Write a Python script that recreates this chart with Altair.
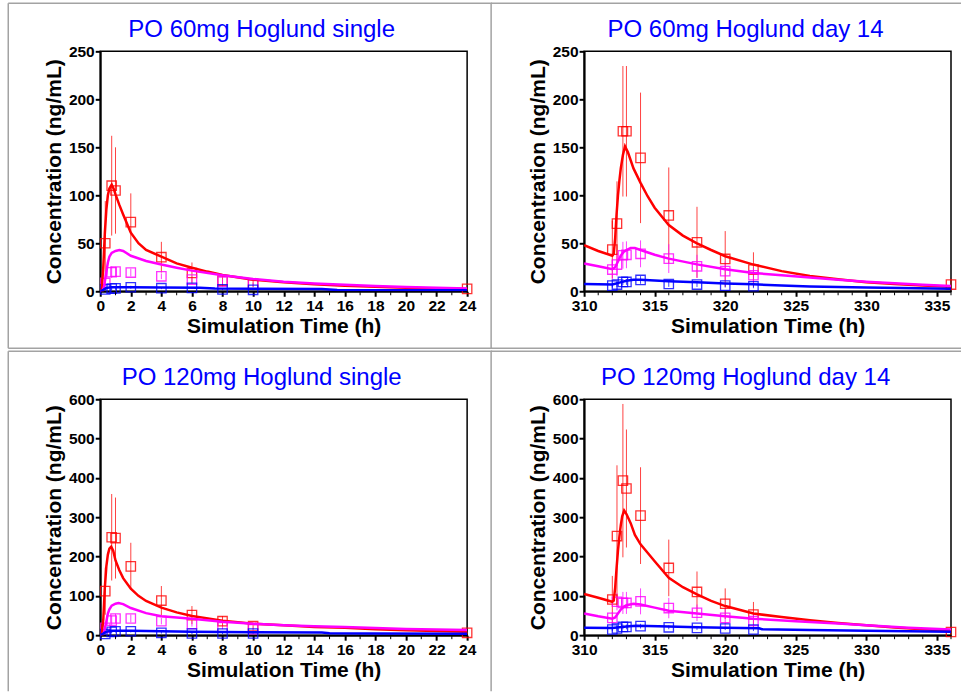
import altair as alt
import pandas as pd

# ---------------- observed sampling times ----------------
T_SINGLE = [0.33, 0.75, 1, 2, 4, 6, 8, 10]
T_D14 = [312, 312.33, 312.75, 313, 314, 316, 318, 320, 322]

# ---------------- Panel 1: PO 60mg single ----------------
p1_red_obs_t = [0.33, 0.75, 1, 2, 4, 6, 8, 10, 24]
p1_red_obs = [50, 110, 105, 72, 35.5, 19, 11, 7.6, 2.5]
p1_red_sd = [44, 52, 45, 30, 16, 11, 6, 3.5, 1.5]
p1_mag_obs = [8.7, 19.8, 20.5, 19.5, 15.6, 12.2, 10, 7]
p1_mag_sd = [4, 6, 5, 4, 3, 3, 2.5, 2]
p1_blue_obs = [2, 2.8, 3, 4.2, 3.2, 3.5, 2, 1.5]
p1_blue_sd = [1, 1.5, 1.5, 1.5, 1, 1, 1, 0.5]
p1_red_sim_t = [0, 0.1, 0.2, 0.3, 0.4, 0.5, 0.6, 0.75, 0.9, 1.0, 1.25, 1.5, 2, 2.5, 3, 4, 5, 6, 7, 8, 10, 12, 14, 16, 18, 20, 22, 24]
p1_red_sim = [0, 2, 25, 60, 85, 100, 107, 111, 106, 101, 90, 80, 61, 50, 43, 36, 29, 24.5, 20.5, 17, 12, 9.3, 7.3, 5.8, 4.6, 3.7, 2.9, 2.3]
p1_mag_sim_t = [0, 0.15, 0.25, 0.4, 0.5, 0.6, 0.75, 1, 1.25, 1.5, 2, 3, 4, 5, 6, 8, 10, 12, 14, 16, 18, 20, 22, 24]
p1_mag_sim = [0, 0, 5, 20, 30, 36, 40, 42, 43, 42, 37, 31.5, 27.8, 24.5, 21.5, 16.7, 12.8, 10, 8.2, 6.7, 5.5, 4.5, 3.7, 3]
p1_blue_sim_t = [0, 0.2, 0.4, 0.75, 2, 4, 6.5, 7.5, 14.5, 15.5, 24]
p1_blue_sim = [0, 1.5, 3.5, 4.3, 4.3, 4, 3.6, 2.8, 2.4, 1.4, 1.1]

# ---------------- Panel 2: PO 60mg day 14 ----------------
p2_red_obs_t = [312, 312.33, 312.75, 313, 314, 316, 318, 320, 322, 336]
p2_red_obs = [43.4, 70.5, 166.7, 166.7, 139, 79, 51, 33.7, 22.6, 7]
p2_red_sd = [30, 44, 68, 68, 68, 50, 37, 29, 18, 6]
p2_mag_obs = [22.6, 27.8, 37.5, 38, 39, 34, 26, 21, 16.7]
p2_mag_sd = [10, 12, 14, 14, 14, 15, 12, 10, 8]
p2_blue_obs = [5.9, 7, 9.7, 9.7, 11.8, 7.6, 7, 5.9, 5.2]
p2_blue_sd = [2, 2.5, 3, 3, 4, 3, 2.5, 2, 2]
p2_red_sim_t = [310, 311, 312, 312.1, 312.2, 312.3, 312.4, 312.5, 312.6, 312.75, 312.9, 313.1, 313.5, 314, 314.5, 315, 316, 317, 318, 319, 320, 322, 324, 326, 328, 330, 332, 334, 336]
p2_red_sim = [48, 42, 37, 39, 55, 80, 100, 115, 128, 142, 151, 145, 128, 113, 99, 87, 69, 58, 50, 43, 36.5, 27.8, 21, 16, 12.5, 9.5, 7.5, 6, 4.8]
p2_mag_sim_t = [310, 311, 312, 312.2, 312.4, 312.6, 312.8, 313, 313.3, 313.6, 314, 315, 316, 318, 320, 322, 324, 326, 328, 330, 332, 334, 336]
p2_mag_sim = [29, 26, 23, 25, 31, 37, 41, 43, 45, 45, 43, 38, 34, 28, 23, 19, 16.7, 14.3, 12, 10, 8.3, 6.8, 5.6]
p2_blue_sim_t = [310, 312, 312.5, 313, 313.5, 314, 316, 318, 320, 322, 324, 326, 330, 336]
p2_blue_sim = [7.5, 7, 9, 11, 12, 12, 10.5, 9.3, 8.2, 7.3, 6, 5, 3.8, 2.5]

# ---------------- Panel 3: PO 120mg single ----------------
p3_red_obs_t = [0.33, 0.75, 1, 2, 4, 6, 8, 10, 24]
p3_red_obs = [112, 249, 247, 175, 88, 51, 35.6, 23, 6]
p3_red_sd = [60, 110, 103, 60, 37, 23, 13, 8, 3]
p3_mag_obs = [18.6, 37, 42.4, 42.4, 35.6, 28.8, 20.3, 15]
p3_mag_sd = [8, 12, 12, 10, 8, 7, 5, 4]
p3_blue_obs = [3, 8.5, 10, 10, 6, 4.2, 4.2, 4.2]
p3_blue_sd = [2, 3, 3, 3, 2, 1.5, 1.5, 1.5]
p3_red_sim_t = [0, 0.1, 0.2, 0.3, 0.4, 0.5, 0.6, 0.72, 0.85, 1, 1.25, 1.5, 2, 2.5, 3, 4, 5, 6, 8, 10, 12, 14, 16, 18, 20, 22, 24]
p3_red_sim = [0, 2, 40, 120, 175, 205, 220, 225, 215, 190, 165, 145, 118, 100, 87, 70, 58, 49, 37, 29, 25, 21, 18.6, 15, 12.5, 10.5, 8.5]
p3_mag_sim_t = [0, 0.15, 0.25, 0.4, 0.5, 0.6, 0.75, 1, 1.2, 1.5, 2, 3, 4, 5, 6, 8, 10, 12, 14, 16, 18, 20, 22, 24]
p3_mag_sim = [0, 0, 8, 35, 55, 66, 75, 80, 82, 79, 69, 56, 48, 45, 42, 34, 29, 25.5, 23, 20.5, 18, 16, 14.5, 13]
p3_blue_sim_t = [0, 0.2, 0.4, 0.75, 1, 2, 4, 6, 8, 10, 14.5, 15, 18, 24]
p3_blue_sim = [0, 4, 9, 11, 11.5, 11, 10, 9, 8.3, 7.6, 6.5, 5, 4.5, 3.5]

# ---------------- Panel 4: PO 120mg day 14 ----------------
p4_red_obs_t = [312, 312.33, 312.75, 313, 314, 316, 318, 320, 322, 336]
p4_red_obs = [90.7, 252, 393, 373, 304, 171, 110, 80, 52.5, 8]
p4_red_sd = [60, 180, 195, 150, 123, 72, 52, 39, 32, 8]
p4_mag_obs = [44, 85, 82, 82, 86, 69, 57, 44, 36]
p4_mag_sd = [15, 22, 28, 28, 33, 26, 21, 25, 20]
p4_blue_obs = [14.4, 17, 21, 21, 23, 20, 18.6, 17, 14.4]
p4_blue_sd = [4, 5, 6, 6, 6, 5, 5, 4, 4]
p4_red_sim_t = [310, 311, 312, 312.1, 312.2, 312.3, 312.4, 312.5, 312.6, 312.7, 312.84, 313, 313.3, 313.6, 314, 315, 316, 317, 318, 319, 320, 322, 324, 326, 328, 330, 332, 334, 336]
p4_red_sim = [105, 95, 85, 88, 120, 170, 215, 250, 280, 302, 317, 308, 285, 255, 231, 188, 146, 122, 103.5, 87, 74, 55, 46, 38, 31, 25, 19.5, 15, 11]
p4_mag_sim_t = [310, 311, 312, 312.2, 312.4, 312.6, 312.8, 313, 313.5, 314, 315, 316, 318, 320, 322, 325, 328, 330, 333, 336]
p4_mag_sim = [55, 48, 42, 45, 55, 65, 72, 76, 80, 78, 70, 62, 55, 48, 42, 35.6, 30, 25, 19, 14.5]
p4_blue_sim_t = [310, 312, 312.5, 313, 313.7, 314.5, 316, 318, 320, 322.4, 322.6, 326, 330, 336]
p4_blue_sim = [18.6, 18, 20, 22, 24, 23.5, 22, 20, 19, 17.5, 15, 13, 11, 8.5]

# ---------------- axes ----------------
X_TICKS_SINGLE = list(range(0, 25, 2))
X_MINOR_SINGLE = list(range(1, 24, 2))
X_TICKS_D14 = [310, 315, 320, 325, 330, 335]
X_MINOR_D14 = [v for v in range(311, 337) if v % 5 != 0]

SERIES = ["red", "magenta", "blue"]
COLORS = ["#ff0000", "#ff00ff", "#0000ff"]

FONT = "Liberation Sans"
W = 367
GRAY = "#a3a3a3"


def obs_frame(items):
    rows = []
    for s, ts, ms, sds in items:
        for t, m, sd in zip(ts, ms, sds):
            rows.append({"t": t, "mean": m, "lo": max(m - sd, 0.0), "hi": m + sd, "s": s})
    return pd.DataFrame(rows)


def sim_frame(items):
    rows = []
    for s, ts, cs in items:
        for t, c in zip(ts, cs):
            rows.append({"t": t, "c": c, "s": s})
    return pd.DataFrame(rows)


ONE = pd.DataFrame({"k": [0]})


def hrule(x1, x2, y):
    return alt.Chart(ONE).mark_rule(color=GRAY, strokeWidth=1.5).encode(
        x=alt.value(x1), x2=alt.value(x2), y=alt.value(y))


def vrule(x, y1, y2):
    return alt.Chart(ONE).mark_rule(color=GRAY, strokeWidth=1.5).encode(
        x=alt.value(x), y=alt.value(y1), y2=alt.value(y2))


def panel(title, obs, sim, xdom, xticks, xminor, ymax, ystep, H, borders):
    color = alt.Color("s:N", scale=alt.Scale(domain=SERIES, range=COLORS), legend=None)
    xs = alt.Scale(domain=xdom, nice=False, zero=False)
    ys = alt.Scale(domain=[0, ymax], nice=False)
    xaxis = alt.Axis(values=xticks, title="Simulation Time (h)", format="d")
    yaxis = alt.Axis(values=list(range(0, ymax + 1, ystep)), title="Concentration (ng/mL)", format="d")

    err = alt.Chart(obs).mark_rule(strokeWidth=1, opacity=0.75).encode(
        x=alt.X("t:Q", scale=xs, axis=xaxis),
        y=alt.Y("lo:Q", scale=ys, axis=yaxis),
        y2="hi:Q",
        color=color,
    )
    pts = alt.Chart(obs).mark_point(shape="square", filled=False, size=88, strokeWidth=1.3, opacity=0.8).encode(
        x=alt.X("t:Q", scale=xs, axis=xaxis),
        y=alt.Y("mean:Q", scale=ys, axis=yaxis),
        color=color,
    )
    lines = alt.Chart(sim).mark_line(strokeWidth=2.5, clip=True).encode(
        x=alt.X("t:Q", scale=xs, axis=xaxis),
        y=alt.Y("c:Q", scale=ys, axis=yaxis),
        color=color,
    )
    minor = alt.Chart(pd.DataFrame({"t": xminor})).mark_rule(color="black", strokeWidth=1).encode(
        x=alt.X("t:Q", scale=xs, axis=xaxis),
        y=alt.value(H + 1),
        y2=alt.value(H + 4),
    )
    ttl = alt.Chart(ONE).mark_text(
        text=title, font=FONT, fontSize=24, color="#0000ff", align="center", baseline="alphabetic"
    ).encode(x=alt.value(W / 2 - 22), y=alt.value(-14))
    return alt.layer(*borders, err, pts, lines, minor, ttl).properties(width=W, height=H)


def make(items_obs, items_sim):
    return obs_frame(items_obs), sim_frame(items_sim)


o1, s1 = make(
    [("red", p1_red_obs_t, p1_red_obs, p1_red_sd),
     ("magenta", T_SINGLE, p1_mag_obs, p1_mag_sd),
     ("blue", T_SINGLE, p1_blue_obs, p1_blue_sd)],
    [("red", p1_red_sim_t, p1_red_sim),
     ("magenta", p1_mag_sim_t, p1_mag_sim),
     ("blue", p1_blue_sim_t, p1_blue_sim)])
o2, s2 = make(
    [("red", p2_red_obs_t, p2_red_obs, p2_red_sd),
     ("magenta", T_D14, p2_mag_obs, p2_mag_sd),
     ("blue", T_D14, p2_blue_obs, p2_blue_sd)],
    [("red", p2_red_sim_t, p2_red_sim),
     ("magenta", p2_mag_sim_t, p2_mag_sim),
     ("blue", p2_blue_sim_t, p2_blue_sim)])
o3, s3 = make(
    [("red", p3_red_obs_t, p3_red_obs, p3_red_sd),
     ("magenta", T_SINGLE, p3_mag_obs, p3_mag_sd),
     ("blue", T_SINGLE, p3_blue_obs, p3_blue_sd)],
    [("red", p3_red_sim_t, p3_red_sim),
     ("magenta", p3_mag_sim_t, p3_mag_sim),
     ("blue", p3_blue_sim_t, p3_blue_sim)])
o4, s4 = make(
    [("red", p4_red_obs_t, p4_red_obs, p4_red_sd),
     ("magenta", T_D14, p4_mag_obs, p4_mag_sd),
     ("blue", T_D14, p4_blue_obs, p4_blue_sd)],
    [("red", p4_red_sim_t, p4_red_sim),
     ("magenta", p4_mag_sim_t, p4_mag_sim),
     ("blue", p4_blue_sim_t, p4_blue_sim)])

b1 = [hrule(-92, 392, -48), hrule(-92, 392, 297), vrule(-92, -48, 297)]
b2 = [hrule(-93, 377, -48), hrule(-93, 377, 297), vrule(-93, -48, 297)]
b3 = [hrule(-92, 392, -48), vrule(-92, -48, 292)]
b4 = [hrule(-93, 377, -48), vrule(-93, -48, 292)]

c1 = panel("PO 60mg Hoglund single", o1, s1, [0, 24], X_TICKS_SINGLE, X_MINOR_SINGLE, 250, 50, 240, b1)
c2 = panel("PO 60mg Hoglund day 14", o2, s2, [310, 336], X_TICKS_D14, X_MINOR_D14, 250, 50, 240, b2)
c3 = panel("PO 120mg Hoglund single", o3, s3, [0, 24], X_TICKS_SINGLE, X_MINOR_SINGLE, 600, 100, 236, b3)
c4 = panel("PO 120mg Hoglund day 14", o4, s4, [310, 336], X_TICKS_D14, X_MINOR_D14, 600, 100, 236, b4)

chart = alt.concat(
    c1, c2, c3, c4, columns=2, spacing={"row": 108, "column": 117}, bounds="flush"
).properties(
    padding={"left": 6.25, "top": 1.25, "right": 0, "bottom": 0},
    background="white",
).configure_view(
    stroke="black", strokeWidth=1.5
).configure_axis(
    domainColor="black", domainWidth=2, tickColor="black", tickWidth=2, tickSize=5,
    labelFont=FONT, labelFontWeight="bold", labelFontSize=15.5, labelColor="black",
    titleFont=FONT, titleFontWeight="bold", titleFontSize=21, titleColor="black",
    grid=False, labelPadding=1, labelFlush=False, labelOverlap=False,
).configure_axisX(
    titlePadding=2, labelPadding=2
).configure_axisY(
    titlePadding=4
)

chart.save("out.html", embed_options={"renderer": "svg", "actions": False})
